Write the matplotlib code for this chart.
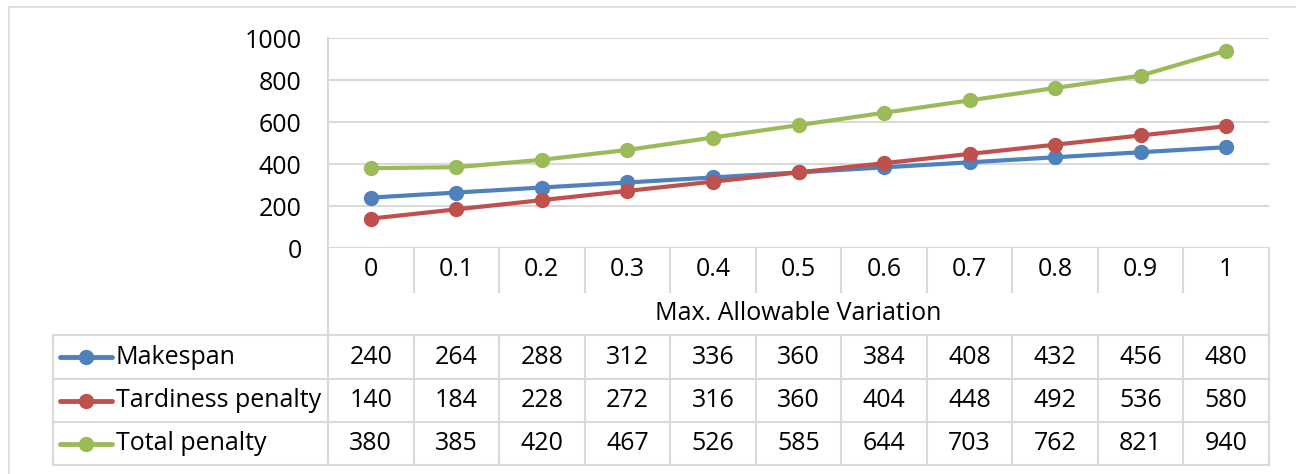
import matplotlib
matplotlib.use("Agg")
import matplotlib.pyplot as plt
from matplotlib.lines import Line2D
import matplotlib.transforms as mtransforms

categories = ["0", "0.1", "0.2", "0.3", "0.4", "0.5", "0.6", "0.7", "0.8", "0.9", "1"]
makespan = [240, 264, 288, 312, 336, 360, 384, 408, 432, 456, 480]
tardiness = [140, 184, 228, 272, 316, 360, 404, 448, 492, 536, 580]
total = [380, 385, 420, 467, 526, 585, 644, 703, 762, 821, 940]
series_names = ["Makespan", "Tardiness penalty", "Total penalty"]
series_values = [makespan, tardiness, total]
series_colors = ["#4F81BD", "#C0504D", "#9BBB59"]
x_title = "Max. Allowable Variation"
y_ticks = [0, 200, 400, 600, 800, 1000]

plt.rcParams['font.family'] = ['Open Sans', 'DejaVu Sans']

W, H = 1296, 474
fig = plt.figure(figsize=(W / 100, H / 100), dpi=100)

def fx(px):
    return px / W

def fy(py):
    return 1 - py / H

GRID = "#D9D9D9"
PL, PR, PT, PB = 328, 1269, 38, 248
ax = fig.add_axes([fx(PL), fy(PB), fx(PR) - fx(PL), fy(PT) - fy(PB)])
n = len(categories)
xs = list(range(n))
for vals, c in zip(series_values, series_colors):
    ax.plot(xs, vals, color=c, lw=3, marker='o', ms=10, zorder=3, solid_capstyle='round')
ax.set_xlim(-0.5, n - 0.5)
ax.set_ylim(0, 1000)
ax.set_yticks(y_ticks)
ax.set_yticklabels([str(v) for v in y_ticks], fontsize=18)
ax.set_xticks([])
ax.tick_params(axis='y', length=0, pad=19)
ax.grid(axis='y', color=GRID, lw=1.5, zorder=0)
for s in ["top", "right", "bottom", "left"]:
    ax.spines[s].set_visible(False)
ax.set_facecolor("none")

# blended transform: x in data coords, y in figure fraction
blend = mtransforms.blended_transform_factory(ax.transData, fig.transFigure)

def hline(x0, x1, y, lw=1.5):
    fig.add_artist(Line2D([fx(x0), fx(x1)], [fy(y), fy(y)], color=GRID, lw=lw, transform=fig.transFigure))

def vline_px(x, y0, y1, lw=1.5):
    fig.add_artist(Line2D([fx(x), fx(x)], [fy(y0), fy(y1)], color=GRID, lw=lw, transform=fig.transFigure))

def vline_data(xd, y0, y1, lw=1.5):
    fig.add_artist(Line2D([xd, xd], [fy(y0), fy(y1)], color=GRID, lw=lw, transform=blend))

# outer border (top and left visible)
hline(9, W, 7, lw=1.2)
vline_px(9, 7, H, lw=1.2)

# left axis line
vline_px(PL, PT, 465, lw=1.5)
# right border of table
vline_px(PR, PB, 465, lw=1.5)

ROW_CAT = (248, 292)
ROW_TITLE = (292, 335)
ROWS = [(335, 379), (379, 422), (422, 465)]
LEFT = 53

# category row separators
for k in range(1, n):
    vline_data(k - 0.5, ROW_CAT[0], ROW_CAT[1])
# category labels
for k, lab in enumerate(categories):
    fig.text(k, fy(sum(ROW_CAT) / 2), lab, transform=blend, ha='center', va='center', fontsize=18)
# axis title
fig.text(fx((PL + PR) / 2), fy(sum(ROW_TITLE) / 2), x_title, ha='center', va='center', fontsize=18)

# table rows
hline(LEFT, PR, ROWS[0][0])
for r0, r1 in ROWS:
    hline(LEFT, PR, r1)
vline_px(LEFT, ROWS[0][0], ROWS[-1][1])
for k in range(1, n):
    vline_data(k - 0.5, ROWS[0][0], ROWS[-1][1])

for (r0, r1), name, vals, c in zip(ROWS, series_names, series_values, series_colors):
    yc = fy((r0 + r1) / 2)
    fig.add_artist(Line2D([fx(60), fx(112)], [yc, yc], color=c, lw=3.5, transform=fig.transFigure, solid_capstyle='round'))
    fig.add_artist(Line2D([fx(86)], [yc], color=c, marker='o', ms=10, transform=fig.transFigure))
    fig.text(fx(116), yc, name, ha='left', va='center', fontsize=18)
    for k, v in enumerate(vals):
        fig.text(k, yc, str(v), transform=blend, ha='center', va='center', fontsize=18)

fig.savefig("out.png", dpi=100)
